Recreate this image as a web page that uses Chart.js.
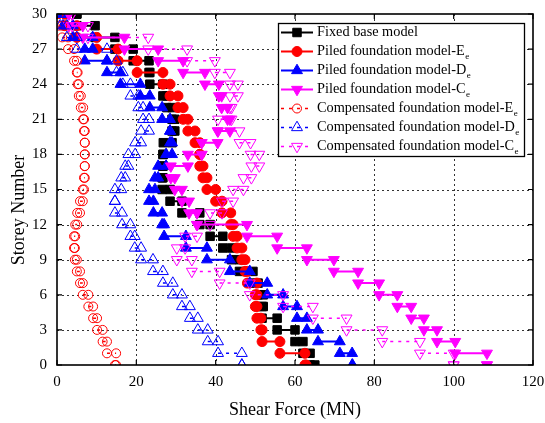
<!DOCTYPE html>
<html>
<head>
<meta charset="utf-8">
<script src="https://cdn.jsdelivr.net/npm/chart.js"></script>
<style>
  html, body { margin: 0; padding: 0; background: #fff; }
  canvas { display: block; }
</style>
</head>
<body>
<canvas id="shearChart" width="545" height="423"></canvas>
<script>
// storey shear at each floor level 0..30 (MN)
var fixedBase = [65, 63.8, 62, 60, 55.5, 51.7, 52, 50.7, 49.4, 46, 44, 41.8, 38.6, 36, 31.5, 28.5, 26.5, 26.7, 26.7, 26.8, 29, 29.7, 29, 27.7, 26.7, 23.4, 23.2, 19.2, 14.6, 9.6, 5];
var piledE = [62.8, 62.5, 56.2, 51.7, 51.4, 50.4, 50, 50.4, 48, 47.4, 46.6, 45.4, 44.4, 43.8, 41.6, 40, 37.8, 36.8, 36, 36, 34.8, 33, 31.8, 30.5, 28.5, 26.7, 20.2, 15.4, 10, 5, 2];
var piledD = [74.5, 74.4, 71.3, 65.8, 63, 60.5, 57, 53, 48.6, 43.6, 37.8, 32.5, 27, 26.5, 24.3, 23.2, 24.7, 25.5, 27.5, 29, 28.5, 28.5, 26.5, 23.4, 21, 16, 12.6, 7, 9, 4, 1.5];
var piledC = [108.4, 108.4, 100.4, 95.8, 92.5, 89.3, 85.8, 81.2, 75.9, 69.8, 63, 55.5, 47.9, 35.3, 33.3, 31.5, 29.7, 28.7, 33, 36.5, 40.5, 43.6, 43, 41.5, 40.8, 37.3, 31.8, 25.5, 17, 6.5, 3];
var compE = [14.6, 14.9, 12.6, 11.5, 10.1, 9.1, 7.9, 6.5, 5.8, 5, 4.5, 4.3, 4.6, 5.1, 5.8, 6.5, 6.8, 7, 7, 7, 7, 6.8, 6.6, 6, 5.5, 5.2, 5, 4.3, 2.8, 1.3, 0.4];
var compD = [46.6, 46.6, 40.6, 38, 35.5, 33.5, 31.5, 29.2, 26.7, 24.2, 21.2, 19.6, 18.5, 16.4, 14.6, 14.6, 16.2, 17.2, 18, 19.7, 21.2, 23.2, 21.7, 20.5, 18.5, 16.6, 15, 12.6, 5, 2.5, 0.8];
var compC = [100, 100, 91.5, 82, 73, 64.5, 57, 48.6, 41, 34, 30.2, 32.3, 35.3, 38.6, 41.6, 44.4, 47, 49, 51, 48.8, 46, 40.6, 44, 43.6, 45.6, 43.6, 39.8, 32.8, 23, 7.8, 3.8];

var xTicks = [0, 20, 40, 60, 80, 100, 120];
var yTicks = [0, 3, 6, 9, 12, 15, 18, 21, 24, 27, 30];

var names = ["Fixed base model", "Piled foundation model-E", "Piled foundation model-D", "Piled foundation model-C",
  "Compensated foundation model-E", "Compensated foundation model-D", "Compensated foundation model-C"];
var subs = ["", "e", "e", "e", "e", "e", "e"];

var serif = "'Liberation Serif', 'Times New Roman', serif";

// each floor gets a short horizontal step: shear above -> shear below
function steps(v) {
  var pts = [];
  for (var k = 0; k < v.length; k++) {
    var above = k + 1 < v.length ? v[k + 1] : v[k];
    pts.push({ x: above, y: k }, { x: v[k], y: k }, { x: NaN, y: NaN });
  }
  return pts;
}

function series(i, vals, color, shape, filled, dotted) {
  return {
    label: names[i],
    data: steps(vals),
    borderColor: color,
    backgroundColor: filled ? color : 'rgba(0,0,0,0)',
    borderWidth: dotted ? 1.5 : 2,
    borderDash: dotted ? [3, 5] : [],
    pointStyle: shape.style,
    rotation: shape.rot || 0,
    pointRadius: shape.r,
    pointBorderColor: color,
    pointBackgroundColor: filled ? color : 'rgba(0,0,0,0)',
    pointBorderWidth: 1,
    spanGaps: false,
    showLine: true,
    order: 7 - i
  };
}

var sq = { style: 'rect', r: 6 }, dot = { style: 'circle', r: 5 }, up = { style: 'triangle', r: 6.3 },
    down = { style: 'triangle', r: 6.3, rot: 180 }, ring = { style: 'circle', r: 4.5 };

var datasets = [
  series(0, fixedBase, '#000000', sq, true, false),
  series(1, piledE, '#ff0000', dot, true, false),
  series(2, piledD, '#0000ff', up, true, false),
  series(3, piledC, '#ff00ff', down, true, false),
  series(4, compE, '#ff0000', ring, false, true),
  series(5, compD, '#0000ff', up, false, true),
  series(6, compC, '#ff00ff', down, false, true)
];

// dotted grid behind the data, frame and inward ticks on top
var framePlugin = {
  id: 'frame',
  beforeDatasetsDraw: function (chart) {
    var ctx = chart.ctx, a = chart.chartArea, sx = chart.scales.x, sy = chart.scales.y;
    ctx.save();
    ctx.strokeStyle = '#333';
    ctx.lineWidth = 1;
    ctx.setLineDash([2, 3]);
    xTicks.slice(1, -1).forEach(function (v) {
      var px = Math.round(sx.getPixelForValue(v)) + 0.5;
      ctx.beginPath(); ctx.moveTo(px, a.top); ctx.lineTo(px, a.bottom); ctx.stroke();
    });
    yTicks.slice(1, -1).forEach(function (v) {
      var py = Math.round(sy.getPixelForValue(v)) + 0.5;
      ctx.beginPath(); ctx.moveTo(a.left, py); ctx.lineTo(a.right, py); ctx.stroke();
    });
    ctx.restore();
  },
  afterDatasetsDraw: function (chart) {
    var ctx = chart.ctx, a = chart.chartArea, sx = chart.scales.x, sy = chart.scales.y, t = 5;
    ctx.save();
    ctx.strokeStyle = '#000';
    ctx.lineWidth = 1.6;
    ctx.strokeRect(a.left, a.top, a.right - a.left, a.bottom - a.top);
    ctx.lineWidth = 1.2;
    ctx.beginPath();
    xTicks.forEach(function (v) {
      var px = sx.getPixelForValue(v);
      ctx.moveTo(px, a.bottom); ctx.lineTo(px, a.bottom - t);
      ctx.moveTo(px, a.top); ctx.lineTo(px, a.top + t);
    });
    yTicks.forEach(function (v) {
      var py = sy.getPixelForValue(v);
      ctx.moveTo(a.left, py); ctx.lineTo(a.left + t, py);
      ctx.moveTo(a.right, py); ctx.lineTo(a.right - t, py);
    });
    ctx.stroke();
    // y axis title, sitting a little below the axis middle
    ctx.translate(19, 210);
    ctx.rotate(-Math.PI / 2);
    ctx.fillStyle = '#000';
    ctx.font = '18px ' + serif;
    ctx.textAlign = 'center';
    ctx.textBaseline = 'middle';
    ctx.fillText('Storey Number', 0, 0);
    ctx.restore();
  }
};

// boxed legend with subscripted labels
var legendPlugin = {
  id: 'boxLegend',
  afterDraw: function (chart) {
    var ctx = chart.ctx;
    var bx = 278, by = 23, bw = 246, bh = 133, row = 19;
    ctx.save();
    ctx.fillStyle = '#fff';
    ctx.fillRect(bx, by, bw, bh);
    ctx.strokeStyle = '#000';
    ctx.lineWidth = 1.3;
    ctx.strokeRect(bx + 0.5, by + 0.5, bw, bh);
    chart.data.datasets.forEach(function (ds, i) {
      var y = 32.5 + i * row;
      ctx.save();
      ctx.strokeStyle = ds.borderColor;
      ctx.lineWidth = ds.borderWidth;
      ctx.setLineDash(ds.borderDash);
      ctx.beginPath(); ctx.moveTo(bx + 3, y); ctx.lineTo(bx + 35, y); ctx.stroke();
      ctx.restore();
      ctx.save();
      ctx.fillStyle = ds.pointBackgroundColor;
      ctx.strokeStyle = ds.pointBorderColor;
      ctx.lineWidth = 1;
      Chart.helpers.drawPoint(ctx, {
        pointStyle: ds.pointStyle, rotation: ds.rotation, radius: ds.pointRadius, borderWidth: 1
      }, bx + 19, y);
      ctx.restore();
      ctx.fillStyle = '#000';
      ctx.font = '14.3px ' + serif;
      ctx.textBaseline = 'middle';
      ctx.fillText(names[i], bx + 39, y);
      if (subs[i]) {
        var w = ctx.measureText(names[i]).width;
        ctx.font = '9px ' + serif;
        ctx.fillText(subs[i], bx + 39.5 + w, y + 5);
      }
    });
    ctx.restore();
  }
};

new Chart(document.getElementById('shearChart').getContext('2d'), {
  type: 'line',
  data: { datasets: datasets },
  options: {
    responsive: false,
    animation: false,
    events: [],
    layout: { padding: { top: 14, right: 12, left: 0, bottom: 0 } },
    plugins: { legend: { display: false }, tooltip: { enabled: false } },
    scales: {
      x: {
        type: 'linear', min: 0, max: 120,
        afterBuildTicks: function (s) { s.ticks = xTicks.map(function (v) { return { value: v }; }); },
        afterFit: function (s) { s.height = 58; s.paddingLeft = 0; s.paddingRight = 0; },
        grid: { display: false, drawTicks: false },
        border: { display: false },
        ticks: { padding: 8, color: '#000', font: { family: serif, size: 15 } },
        title: { display: true, text: 'Shear Force (MN)', color: '#000', font: { family: serif, size: 18 }, padding: { bottom: 2, top: 0 } }
      },
      y: {
        type: 'linear', min: 0, max: 30,
        afterBuildTicks: function (s) { s.ticks = yTicks.map(function (v) { return { value: v }; }); },
        afterFit: function (s) { s.width = 57; s.paddingTop = 0; s.paddingBottom = 0; },
        grid: { display: false, drawTicks: false },
        border: { display: false },
        ticks: { padding: 10, color: '#000', font: { family: serif, size: 15 } }
      }
    }
  },
  plugins: [framePlugin, legendPlugin]
});
</script>
</body>
</html>
